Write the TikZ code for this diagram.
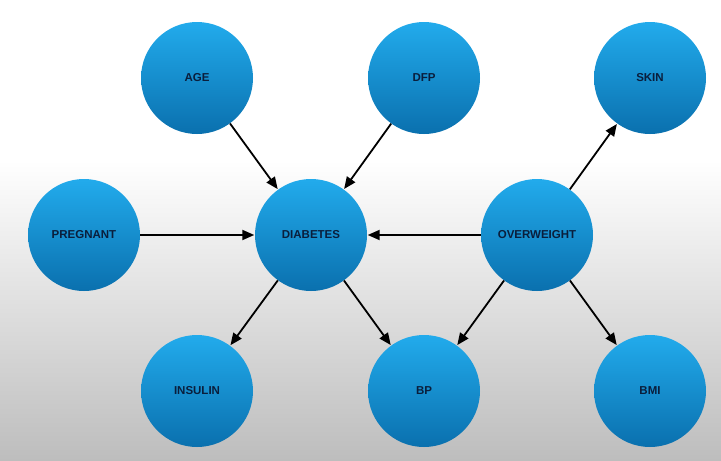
\documentclass[tikz,border=0pt]{standalone}
\usepackage{fontspec}
\setmainfont{Liberation Sans}
\usetikzlibrary{arrows.meta,shadings}
\definecolor{ctop}{HTML}{22ABEC}
\definecolor{cbot}{HTML}{0A70AE}
\definecolor{txt}{HTML}{0A1E3C}
\definecolor{bggray}{HTML}{BDBDBD}
\tikzset{
  var/.style={circle, minimum size=112pt, inner sep=0pt, top color=ctop, bottom color=cbot, draw=none,
    font=\bfseries\fontsize{11.5}{12}\selectfont, text=txt},
  edge/.style={line width=1.8pt, black, -{Triangle[length=12pt,width=10pt]}, shorten >=0.5pt}
}
\begin{document}
\begin{tikzpicture}[x=1pt,y=1pt]
\useasboundingbox (0,0) rectangle (721,-461);
\fill[white] (0,0) rectangle (721,-160);
\shade[top color=white, bottom color=bggray] (0,-160) rectangle (721,-461);
\node[var] (age) at (197,-78) {AGE};
\node[var] (dfp) at (424,-78) {DFP};
\node[var] (skin) at (650,-78) {SKIN};
\node[var] (preg) at (84,-235) {PREGNANT};
\node[var] (diab) at (311,-235) {DIABETES};
\node[var] (over) at (537,-235) {OVERWEIGHT};
\node[var] (ins) at (197,-391) {INSULIN};
\node[var] (bp) at (424,-391) {BP};
\node[var] (bmi) at (650,-391) {BMI};
\draw[edge] (age) -- (diab);
\draw[edge] (dfp) -- (diab);
\draw[edge] (preg) -- (diab);
\draw[edge] (over) -- (diab);
\draw[edge] (over) -- (skin);
\draw[edge] (diab) -- (ins);
\draw[edge] (diab) -- (bp);
\draw[edge] (over) -- (bp);
\draw[edge] (over) -- (bmi);
\end{tikzpicture}
\end{document}
